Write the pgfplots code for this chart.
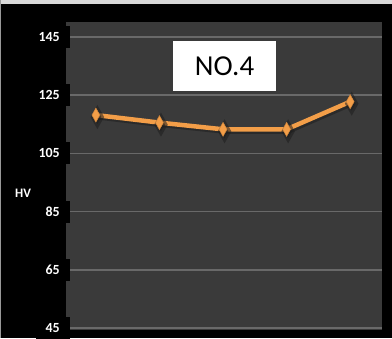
\documentclass[border=0pt]{standalone}
\usepackage{pgfplots}
\pgfplotsset{compat=1.18}
\usepackage{fontspec}
\setmainfont{Carlito}
\definecolor{plotbg}{RGB}{58,58,58}
\definecolor{gridc}{RGB}{105,105,105}
\definecolor{lineor}{RGB}{243,158,72}
\definecolor{shadow}{RGB}{30,30,30}
\begin{document}
\begin{tikzpicture}
\fill[black] (0,0) rectangle (392bp,338bp);
\fill[black!15] (0,334bp) rectangle (392bp,338bp);
\fill[black!40] (0,0) rectangle (1bp,338bp);
\begin{axis}[
  at={(66bp,8bp)}, anchor=south west,
  scale only axis, width=316bp, height=308bp,
  xmin=0.53, xmax=5.5, ymin=44.3, ymax=150.2,
  axis background/.style={fill=plotbg},
  axis line style={draw=none},
  xtick=\empty,
  ytick={45,65,85,105,125,145},
  ymajorgrids,
  major grid style={draw=gridc, line width=1.6bp},
  major tick length=0pt,
  /pgf/number format/assume math mode=true,
  yticklabel style={fill=black, text=white, font=\fontsize{14}{15}\selectfont\bfseries,
     anchor=east, xshift=4bp, minimum height=22bp, inner xsep=10bp},
  clip=false,
]
\addplot[shadow, line width=5bp, mark=diamond*, mark size=7bp, opacity=0.55, shift={(1.5bp,-2bp)},
  mark options={xscale=0.75}]
  coordinates {(1,118.2) (2,115.6) (3,113.3) (4,113.3) (5,122.8)};
\addplot[lineor, line width=4.5bp, mark=diamond*, mark size=7bp,
  mark options={xscale=0.75, fill=lineor, draw=lineor!85!black, line width=0.5bp}]
  coordinates {(1,118.2) (2,115.6) (3,113.3) (4,113.3) (5,122.8)};
\end{axis}
\node[fill=white, minimum width=103bp, minimum height=50bp, inner sep=0pt,
  font=\fontsize{29}{30}\selectfont] at (224.5bp,272bp) {NO.4};
\node[text=white, font=\fontsize{13}{14}\selectfont\bfseries] at (23bp,145bp) {HV};
\end{tikzpicture}
\end{document}
